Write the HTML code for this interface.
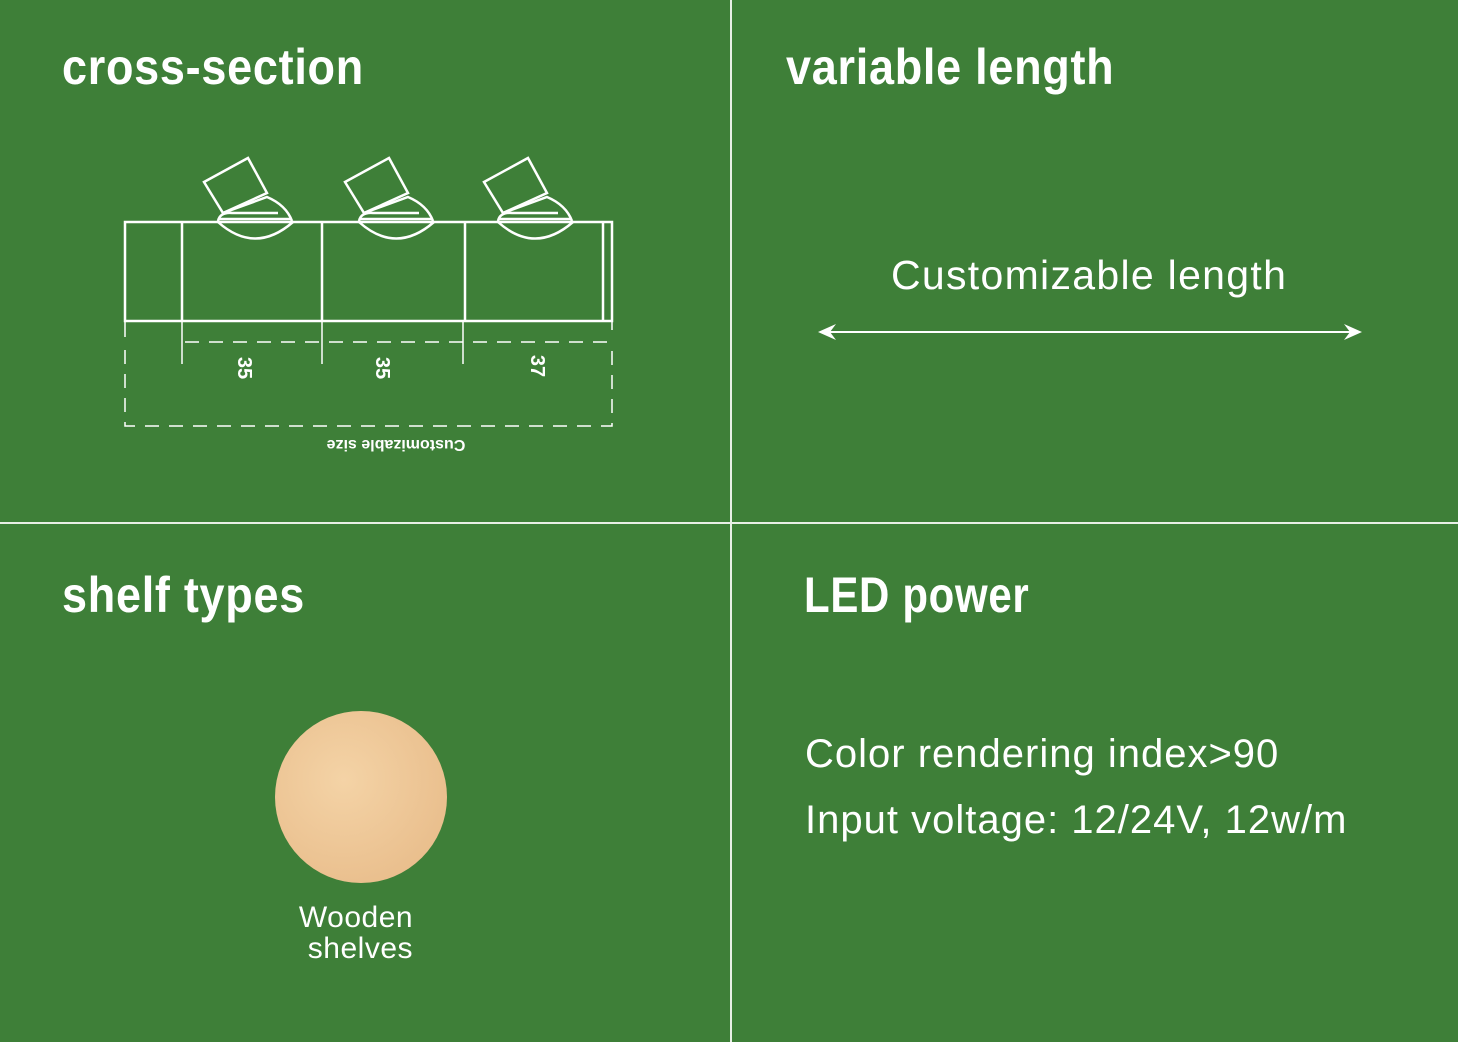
<!DOCTYPE html>
<html><head><style>
body{margin:0;width:1458px;height:1042px;background:#3e7f38;overflow:hidden;position:relative;font-family:"Liberation Sans",sans-serif;color:#fff}
.h{position:absolute;font-weight:bold;font-size:50px;transform:scaleX(0.9);transform-origin:left top;letter-spacing:0.8px}
.t{position:absolute;font-size:40px;letter-spacing:1px;white-space:nowrap}
</style></head><body>
<div style="position:absolute;left:0;top:522px;width:1458px;height:2px;background:#e8efe6"></div>
<div style="position:absolute;left:730px;top:0;width:2px;height:1042px;background:#e8efe6"></div>
<div class="h" style="left:62px;top:38px">cross-section</div>
<div class="h" style="left:786px;top:38px">variable length</div>
<div class="h" style="left:62px;top:566px">shelf types</div>
<div class="h" style="left:804px;top:566px;transform:scaleX(0.84)">LED power</div>
<div class="t" style="left:891px;top:252px;font-size:41px;letter-spacing:1.3px">Customizable length</div>
<div class="t" style="left:805px;top:732px">Color rendering index&gt;90</div>
<div class="t" style="left:805px;top:798px">Input voltage: 12/24V, 12w/m</div>
<div style="position:absolute;left:275px;top:711px;width:172px;height:172px;border-radius:50%;background:radial-gradient(circle at 40% 40%,#f4d3a6,#e6b885)"></div>
<div style="position:absolute;left:291px;top:902px;width:130px;text-align:center;font-size:30px;line-height:31px;letter-spacing:0.5px">Wooden<br>&nbsp;shelves</div>
<svg width="1458" height="1042" style="position:absolute;left:0;top:0" fill="none" stroke="#fff">
<line x1="822" y1="332" x2="1358" y2="332" stroke-width="2"/>
<path d="M836 324 L818 332 L836 340 L830 332 Z" fill="#fff" stroke="none"/>
<path d="M1344 324 L1362 332 L1344 340 L1350 332 Z" fill="#fff" stroke="none"/>
<g stroke-width="2.5">
<rect x="125" y="222" width="487" height="99"/>
<line x1="182" y1="222" x2="182" y2="321"/><line x1="322" y1="222" x2="322" y2="321"/><line x1="465" y1="222" x2="465" y2="321"/><line x1="603" y1="222" x2="603" y2="321"/>
</g>
<g id="lamp" stroke-width="2.5">
<path d="M204 182 L248 158 L267 193 L223 213 Z"/>
<path d="M223 213 L267 197 Q286 205 292 221"/>
<path d="M218 221 Q220 212 232 213 L278 213"/>
<line x1="218" y1="219" x2="292" y2="219"/>
<path d="M218 222 Q255 255 293 222"/>
</g>
<use href="#lamp" x="141"/><use href="#lamp" x="280"/>
<g stroke-width="1.5">
<line x1="125" y1="321" x2="125" y2="337"/><line x1="182" y1="321" x2="182" y2="364"/><line x1="322" y1="321" x2="322" y2="364"/><line x1="463" y1="321" x2="463" y2="364"/><line x1="612" y1="321" x2="612" y2="330"/>
<g stroke-dasharray="14 10">
<line x1="185" y1="342" x2="612" y2="342"/>
<path d="M125 350 V426 H612 V350"/>
</g></g>
<g fill="#fff" stroke="none" font-family="Liberation Sans" font-weight="bold" font-size="20">
<text transform="translate(238,368) rotate(90)" text-anchor="middle">35</text>
<text transform="translate(376,368) rotate(90)" text-anchor="middle">35</text>
<text transform="translate(531,366) rotate(90)" text-anchor="middle">37</text>
<text transform="translate(396,440) rotate(180)" text-anchor="middle" font-size="16">Customizable size</text>
</g>
</svg>
</body></html>
